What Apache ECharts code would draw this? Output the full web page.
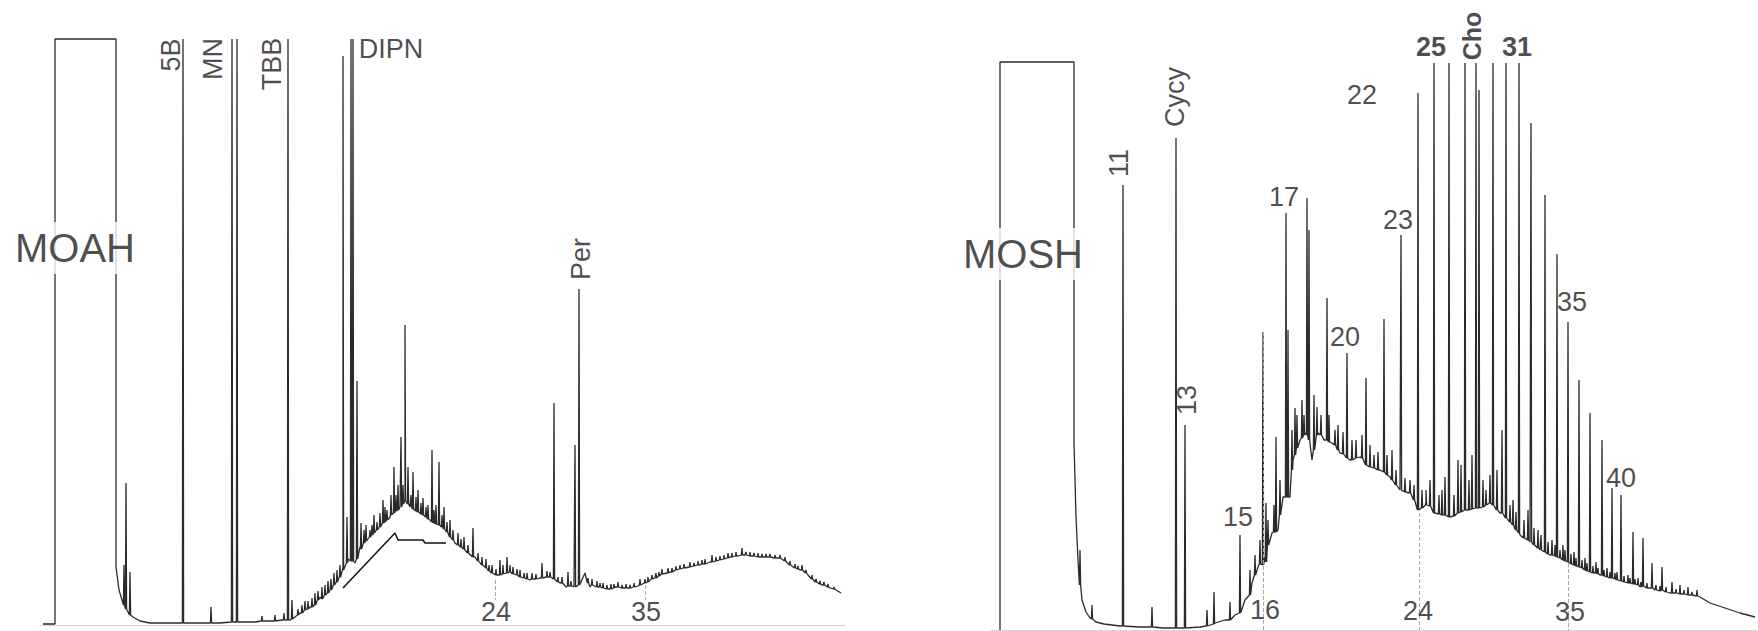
<!DOCTYPE html>
<html>
<head>
<meta charset="utf-8">
<title>MOAH / MOSH chromatograms</title>
<script src="https://cdn.jsdelivr.net/npm/echarts@6/dist/echarts.min.js"></script>
<style>
  html, body { margin: 0; padding: 0; background: #fff; }
  #main { width: 1758px; height: 631px; }
</style>
</head>
<body>
<div id="main"></div>
<script>
// x = retention (scan units, shared by both traces), y = detector response

// ---- MOAH trace: baseline / hump points [rt, response]
const moahTrace = [
  [43, 1], [55, 1], [55, 586], [116, 586], [116, 58], [119, 35], [122, 25], [127, 15], [133, 8],
  [140, 4], [150, 2], [170, 2], [200, 2], [220, 2], [240, 3], [255, 3], [270, 4], [282, 5], [290, 5],
  [295, 8], [300, 12], [310, 18], [320, 28], [330, 35], [338, 45], [343, 58], [348, 66], [355, 62],
  [360, 78], [370, 88], [380, 98], [390, 108], [395, 112], [400, 118], [405, 125], [410, 118],
  [420, 112], [430, 105], [440, 100], [448, 92], [455, 82], [465, 75], [475, 68], [485, 58],
  [493, 52], [500, 50], [510, 53], [520, 48], [530, 45], [540, 47], [550, 48], [560, 42], [566, 38],
  [574, 38], [585, 52], [590, 38], [598, 38], [608, 36], [615, 38], [622, 37], [630, 37], [638, 39],
  [645, 42], [650, 45], [655, 47], [662, 51], [670, 53], [680, 56], [690, 58], [700, 60], [710, 63],
  [720, 65], [730, 68], [738, 69], [745, 70], [752, 69], [760, 68], [770, 68], [780, 67], [785, 64],
  [790, 60], [795, 57], [800, 55], [808, 50], [815, 43], [822, 40], [830, 37], [836, 35], [841, 32]
];
// MOAH peaks [rt, base, apex]
const moahPeaks = [
  [124, 20, 60], [126, 16, 142], [130, 10, 53], [183, 2, 586], [211, 2, 18], [232, 3, 586],
  [237, 3, 586], [262, 4, 9], [275, 4, 10], [284, 5, 12], [288, 5, 586], [292, 6, 25],
  [305, 15, 24], [315, 20, 32], [322, 26, 38], [328, 32, 44], [334, 40, 52], [340, 48, 60],
  [343, 55, 569], [347, 62, 108], [351, 64, 586], [353, 64, 586], [357, 66, 244], [361, 76, 102],
  [366, 84, 100], [370, 88, 95], [374, 92, 110], [377, 95, 103], [383, 102, 125], [387, 105, 115],
  [391, 110, 130], [394, 112, 158], [398, 115, 140], [401, 118, 188], [405, 124, 300],
  [408, 121, 158], [413, 116, 153], [418, 113, 135], [423, 110, 127], [428, 106, 120],
  [432, 103, 175], [436, 101, 120], [439, 100, 163], [444, 96, 118], [450, 88, 105], [458, 80, 92],
  [464, 76, 88], [468, 72, 80], [473, 68, 97], [478, 64, 72], [486, 57, 66], [492, 52, 60],
  [500, 50, 65], [503, 51, 60], [507, 52, 68], [513, 51, 58], [520, 48, 55], [527, 46, 52],
  [532, 46, 52], [542, 47, 62], [547, 48, 54], [554, 46, 222], [562, 42, 48], [568, 39, 53],
  [575, 38, 180], [579, 40, 336], [592, 40, 46], [597, 38, 44], [603, 37, 42], [611, 36, 41],
  [618, 38, 43], [626, 37, 41], [634, 38, 42], [640, 40, 46], [648, 43, 48], [656, 47, 52],
  [662, 51, 56], [668, 52, 57], [676, 55, 59], [684, 57, 61], [690, 58, 63], [698, 60, 64],
  [705, 61, 66], [712, 63, 70], [720, 65, 69], [728, 67, 72], [736, 69, 73], [742, 70, 77],
  [750, 69, 73], [758, 68, 72], [766, 68, 71], [775, 67, 70], [785, 64, 68], [795, 57, 61],
  [802, 55, 60], [812, 46, 50], [820, 41, 44], [828, 38, 41]
];
// small noise peaks on the MOAH hump
const moahMinor = [
  [298, 10, 16], [302, 12, 20], [308, 16, 24], [312, 18, 27], [318, 25, 34], [325, 30, 40],
  [331, 35, 46], [337, 43, 55], [364, 82, 95], [372, 90, 100], [380, 98, 112], [385, 103, 118],
  [396, 114, 130], [403, 121, 140], [411, 118, 130], [416, 114, 128], [421, 111, 122],
  [426, 108, 118], [434, 102, 115], [442, 98, 110], [447, 93, 103], [453, 85, 95], [461, 78, 86],
  [482, 60, 68], [489, 54, 60], [496, 50, 56], [510, 53, 60], [517, 50, 56], [524, 47, 52],
  [536, 46, 51], [550, 48, 53], [558, 43, 48], [571, 39, 44], [588, 42, 47], [600, 38, 42],
  [607, 36, 40], [614, 37, 41], [622, 37, 40], [630, 37, 40], [645, 42, 46], [652, 46, 50],
  [659, 49, 53], [672, 53, 57], [680, 56, 60], [694, 59, 62], [702, 61, 65], [716, 64, 68],
  [724, 66, 70], [732, 68, 72], [746, 70, 73], [754, 69, 72], [762, 68, 71], [770, 68, 71],
  [780, 67, 70], [790, 60, 64], [798, 56, 59], [806, 52, 55], [816, 43, 46], [824, 40, 43],
  [834, 36, 38]
];
// hump baseline drawn under the MOAH cluster
const moahHumpBase = [[343, 37], [395, 92], [398, 85], [423, 85], [425, 82], [446, 82]];
// n-alkane markers [rt, from, to]
const moahTicks = [[495, 45, 25], [645, 40, 25]];
// annotations [text, rt, response, kind]
const moahLabels = [
  ['MOAH', 75, 377, 'title'], ['5B', 171, 570, 'v'], ['MN', 213, 566, 'v'], ['TBB', 272, 561, 'v'],
  ['DIPN', 391, 576, 'h'], ['Per', 581, 366, 'v'], ['24', 496, 13, 'h'], ['35', 646, 13, 'h']
];

// ---- MOSH trace
const moshTrace = [
  [76, 0], [76, 568], [150, 568], [150, 187], [152, 113], [154, 70], [156, 45], [158, 30], [162, 18],
  [166, 12], [172, 8], [180, 6], [196, 4], [215, 3], [240, 2], [256, 2], [276, 3], [291, 7],
  [301, 10], [311, 15], [321, 30], [328, 47], [334, 63], [341, 73], [348, 97], [354, 100],
  [359, 133], [366, 133], [369, 170], [376, 190], [382, 197], [388, 170], [394, 197], [400, 190],
  [408, 187], [416, 177], [426, 170], [436, 173], [446, 163], [456, 160], [466, 153], [476, 140],
  [486, 137], [494, 120], [502, 128], [511, 117], [526, 113], [541, 120], [556, 122], [566, 127],
  [576, 117], [586, 108], [596, 95], [606, 88], [616, 80], [626, 75], [636, 72], [646, 67],
  [656, 63], [666, 58], [676, 55], [688, 52], [701, 48], [716, 43], [731, 40], [746, 37], [766, 35],
  [776, 33], [786, 27], [801, 22], [816, 17], [831, 13]
];
const moshPeaks = [
  [156, 45, 80], [168, 11, 25], [199, 4, 445], [228, 3, 23], [252, 2, 492], [261, 2, 205],
  [283, 4, 20], [290, 6, 38], [306, 10, 28], [316, 17, 95], [326, 35, 60], [339, 65, 298],
  [342, 68, 127], [352, 98, 193], [362, 133, 417], [364, 133, 300], [371, 175, 222],
  [383, 195, 432], [385, 190, 400], [393, 195, 223], [403, 190, 332], [411, 185, 200],
  [423, 172, 277], [432, 172, 190], [442, 165, 252], [450, 162, 175], [460, 158, 311],
  [468, 150, 180], [477, 140, 395], [486, 137, 150], [494, 120, 537], [502, 125, 140],
  [510, 117, 567], [521, 115, 153], [525, 113, 567], [534, 117, 170], [541, 120, 567],
  [552, 122, 567], [555, 122, 540], [566, 127, 155], [569, 125, 567], [578, 117, 200],
  [582, 112, 567], [589, 105, 130], [595, 97, 567], [604, 90, 120], [607, 88, 507], [614, 82, 100],
  [617, 80, 95], [621, 78, 435], [628, 75, 90], [633, 73, 376], [639, 70, 85], [644, 68, 308],
  [650, 65, 78], [655, 63, 250], [661, 60, 72], [666, 58, 217], [672, 57, 68], [678, 55, 190],
  [683, 53, 62], [688, 52, 142], [693, 50, 58], [697, 49, 135], [704, 47, 55], [709, 46, 98],
  [714, 45, 52], [719, 44, 92], [728, 42, 67], [738, 40, 63], [748, 37, 48], [756, 36, 45],
  [764, 35, 43], [773, 34, 40]
];
// small noise peaks on the MOSH hump
const moshMinor = [
  [331, 55, 75], [336, 66, 90], [344, 85, 110], [350, 98, 125], [356, 115, 150], [368, 160, 200],
  [373, 182, 215], [378, 192, 230], [380, 195, 215], [390, 180, 235], [397, 195, 215],
  [405, 188, 215], [414, 180, 205], [419, 176, 198], [428, 170, 190], [438, 172, 195],
  [446, 163, 185], [454, 160, 178], [463, 155, 175], [472, 145, 160], [481, 138, 152],
  [490, 130, 145], [498, 122, 140], [506, 124, 150], [515, 116, 135], [518, 115, 140],
  [530, 114, 135], [537, 118, 165], [545, 120, 150], [548, 121, 175], [559, 123, 150],
  [562, 125, 140], [573, 120, 160], [586, 108, 125], [592, 100, 118], [600, 92, 110],
  [610, 85, 102], [624, 76, 88], [631, 74, 85], [636, 72, 80], [641, 69, 80], [647, 66, 76],
  [652, 64, 72], [658, 62, 70], [663, 59, 67], [669, 57, 64], [674, 56, 62], [680, 54, 60],
  [686, 52, 58], [691, 51, 57], [700, 48, 54], [706, 47, 52], [711, 46, 51], [717, 43, 48],
  [723, 42, 47], [732, 40, 45], [736, 39, 44], [742, 38, 43], [752, 37, 41], [760, 36, 40],
  [768, 35, 38]
];
const moshTicks = [[339, 298, 0], [495, 117, 0], [644, 67, 0]];
const moshLabels = [
  ['MOSH', 99, 376, 'title'], ['11', 195, 467, 'v'], ['Cycy', 251, 533, 'v'], ['13', 263, 230, 'v'],
  ['15', 314, 113, 'h'], ['16', 341, 20, 'h'], ['17', 360, 433, 'h'], ['20', 421, 293, 'h'],
  ['22', 438, 535, 'h'], ['23', 474, 410, 'h'], ['24', 494, 19, 'h'], ['25', 507, 583, 'b'],
  ['Cho', 548, 594, 'bv'], ['31', 593, 583, 'b'], ['35', 648, 328, 'h'], ['35', 646, 18, 'h'],
  ['40', 697, 152, 'h']
];

const FONT = 'Liberation Sans, Arial, sans-serif';
const INK = '#2b2b2b';

function buildSignal(trace, peaks) {
  const pts = trace.map(p => [p[0], p[1]]);
  peaks.forEach(([x, base, top]) => {
    pts.push([x - 0.6, base], [x, top], [x + 0.6, base]);
  });
  return pts.sort((a, b) => a[0] - b[0]);
}

function labelItems(labels) {
  return labels.map(([text, x, y, kind]) => {
    const vertical = kind === 'v' || kind === 'bv';
    const bold = kind === 'b' || kind === 'bv';
    const title = kind === 'title';
    return {
      value: [x, y],
      label: {
        show: true,
        position: 'inside',
        formatter: text,
        rotate: vertical ? 90 : 0,
        fontSize: title ? 40 : (kind === 'bv' ? 25 : 27),
        fontWeight: bold ? 'bold' : 'normal',
        fontFamily: FONT,
        color: '#1e1e1e',
        backgroundColor: title ? '#fff' : 'transparent',
        padding: title ? [6, 2] : 0
      }
    };
  });
}

function panelSeries(idx, trace, peaks, ticks, labels) {
  return [
    {
      type: 'line',
      xAxisIndex: idx, yAxisIndex: idx,
      data: buildSignal(trace, peaks),
      showSymbol: false,
      lineStyle: { color: INK, width: 1.3 },
      z: 2,
      markLine: {
        silent: true,
        symbol: 'none',
        label: { show: false },
        lineStyle: { color: '#aaa', type: 'dashed', width: 1 },
        data: ticks.map(([x, y1, y2]) => [{ coord: [x, y1] }, { coord: [x, y2] }])
      }
    },
    {
      type: 'scatter',
      xAxisIndex: idx, yAxisIndex: idx,
      symbolSize: 1,
      itemStyle: { color: 'rgba(0,0,0,0)' },
      clip: false,
      z: 5,
      data: labelItems(labels)
    }
  ];
}

const chart = echarts.init(document.getElementById('main'), null, { renderer: 'svg' });

const axisX = (idx, min, max) => ({
  type: 'value', gridIndex: idx, min: min, max: max,
  axisLine: { show: true, onZero: false, lineStyle: { color: '#ccc', type: 'dotted', width: 1 } },
  axisTick: { show: false }, axisLabel: { show: false }, splitLine: { show: false }
});
const axisY = (idx, max) => ({
  type: 'value', gridIndex: idx, min: 0, max: max, show: false, splitLine: { show: false }
});

chart.setOption({
  animation: false,
  backgroundColor: '#fff',
  grid: [
    { left: 40, width: 805, top: 0, bottom: 6 },
    { left: 990, right: 0, top: 0, bottom: 1 }
  ],
  xAxis: [axisX(0, 40, 845), axisX(1, 66, 834)],
  yAxis: [axisY(0, 625), axisY(1, 630)],
  series: [
    ...panelSeries(0, moahTrace, moahPeaks.concat(moahMinor), moahTicks, moahLabels),
    {
      type: 'line',
      xAxisIndex: 0, yAxisIndex: 0,
      data: moahHumpBase,
      showSymbol: false,
      lineStyle: { color: '#111', width: 1.5 },
      z: 3
    },
    ...panelSeries(1, moshTrace, moshPeaks.concat(moshMinor), moshTicks, moshLabels)
  ]
});
</script>
</body>
</html>
